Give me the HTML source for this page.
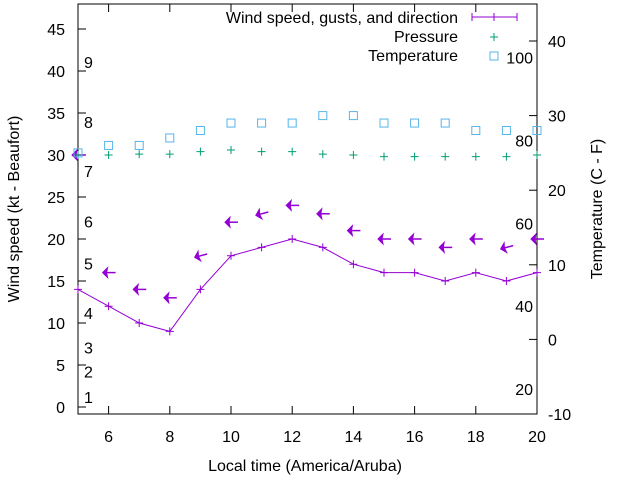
<!DOCTYPE html>
<html><head><meta charset="utf-8"><style>
body{margin:0;background:#fff}
svg{display:block;font-family:"Liberation Sans",sans-serif}
</style></head><body>
<svg id="c" width="640" height="480"></svg>
<script>
const hours=[5,6,7,8,9,10,11,12,13,14,15,16,17,18,19,20];
const windSpeed=[14,12,10,9,14,18,19,20,19,17,16,16,15,16,15,16];
const gustSpeed=[30,16,14,13,18,22,23,24,23,21,20,20,19,20,19,20];
const gustDir=[90,90,90,90,75,90,75,90,90,90,90,90,90,90,75,90];
const pressure=[30,30,30.1,30.1,30.4,30.6,30.4,30.4,30.1,30,29.8,29.8,29.8,29.8,29.8,30];
const temperature=[25,26,26,27,28,29,29,29,30,30,29,29,29,28,28,28];
const leftTicks=[0,5,10,15,20,25,30,35,40,45];
const rightTicks=[-10,0,10,20,30,40];
const xTicks=[6,8,10,12,14,16,18,20];
const beaufort=[[1,1.2],[2,4.2],[3,7.1],[4,11.2],[5,17.1],[6,22.1],[7,28.1],[8,33.9],[9,41.1]];
const fahr=[20,40,60,80,100];

const L=78,R=537,T=4,B=414;
const X=h=>L+(h-5)*(R-L)/15;
const Y=v=>407-v*8.4;
const YR=t=>414-(t+10)*7.46;
const NS='http://www.w3.org/2000/svg';
const svg=document.getElementById('c');
function mk(tag,at,parent){const e=document.createElementNS(NS,tag);for(const k in at)e.setAttribute(k,at[k]);(parent||svg).appendChild(e);return e;}
function txt(s,x,y,anchor,name,extra){const e=mk('text',Object.assign({x:x,y:y,'font-size':16,'text-anchor':anchor,fill:'#000'},extra||{}));e.textContent=s;


return e;}

const frame=mk('rect',{x:L,y:T,width:R-L,height:B-T,fill:'none',stroke:'#000','stroke-width':1});



leftTicks.forEach(v=>{const y=Y(v);
 const t=mk('line',{x1:L,x2:L+8,y1:y,y2:y,stroke:'#000'});
 
 
 txt(String(v),65,y+6,'end','left-tick-label');});
rightTicks.forEach(v=>{const y=YR(v);
 const t=mk('line',{x1:R-8,x2:R,y1:y,y2:y,stroke:'#000'});
 
 
 txt(String(v),548,y+6,'start','right-tick-label');});
xTicks.forEach(h=>{const x=X(h);
 const t1=mk('line',{x1:x,x2:x,y1:B,y2:B-8,stroke:'#000'});
 
 
 const t2=mk('line',{x1:x,x2:x,y1:T,y2:T+8,stroke:'#000'});
 
 
 txt(String(h),x,442,'middle','x-tick-label');});
beaufort.forEach(b=>{txt(String(b[0]),84,Y(b[1])+6,'start','beaufort-label');});
fahr.forEach(f=>{txt(String(f),533,YR((f-32)*5/9)+6,'end','fahrenheit-label');});

txt('Local time (America/Aruba)',305,471,'middle','x-axis-title');
txt('Wind speed (kt - Beaufort)',0,0,'middle','y-axis-title',{transform:'translate(19,209) rotate(-90)'});
txt('Temperature (C - F)',0,0,'middle','y2-axis-title',{transform:'translate(602,209) rotate(-90)'});

const pl=mk('polyline',{points:hours.map((h,i)=>X(h)+','+Y(windSpeed[i])).join(' '),fill:'none',stroke:'#9400d3','stroke-width':1});


hours.forEach((h,i)=>{const x=X(h),y=Y(windSpeed[i]);
 const p=mk('path',{d:`M${x-4},${y}H${x+4}M${x},${y-4}V${y+4}`,stroke:'#9400d3'});
 
 });
hours.forEach((h,i)=>{const x=X(h),y=Y(gustSpeed[i]);
 const g=mk('g',{transform:`translate(${x},${y}) rotate(${gustDir[i]-90})`});
 
 
 mk('line',{x1:-4,y1:0,x2:7,y2:0,stroke:'#9400d3','stroke-width':1.5},g);
 mk('path',{d:'M-6,0L-1,-5L-2,0L-1,5Z',fill:'#9400d3',stroke:'#9400d3','stroke-width':1},g);});
hours.forEach((h,i)=>{const x=X(h),y=Y(pressure[i]);
 const p=mk('path',{d:`M${x-4},${y}H${x+4}M${x},${y-4}V${y+4}`,stroke:'#009e73'});
 
 });
hours.forEach((h,i)=>{const x=X(h),y=YR(temperature[i]);
 const r=mk('rect',{x:x-4,y:y-4,width:8,height:8,fill:'none',stroke:'#56b4e9'});
 
 });

txt('Wind speed, gusts, and direction',458,23,'end','legend-wind');
const lw=mk('path',{d:'M472,17H517M472,13V21M517,13V21M494,13V21',stroke:'#9400d3'});


txt('Pressure',458,42,'end','legend-pressure');
const lp=mk('path',{d:'M490,37H498M494,33V41',stroke:'#009e73'});


txt('Temperature',458,61,'end','legend-temperature');
const lt=mk('rect',{x:490,y:52,width:8,height:8,fill:'none',stroke:'#56b4e9'});


</script>
</body></html>
